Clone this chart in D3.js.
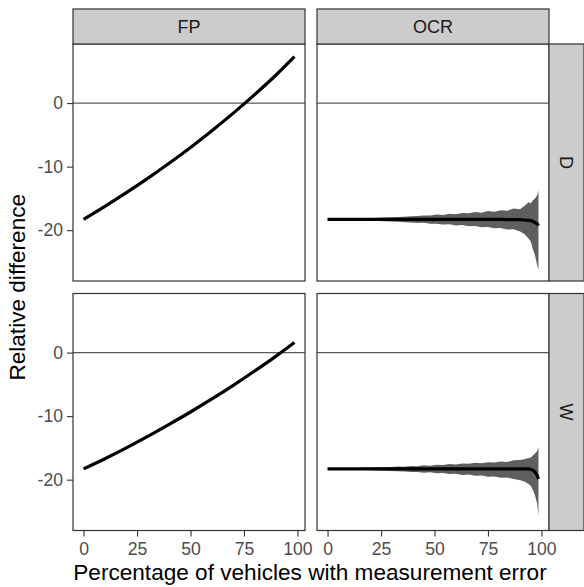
<!DOCTYPE html>
<html>
<head>
<meta charset="utf-8">
<script src="https://cdn.jsdelivr.net/npm/d3@7"></script>
<style>
  body { margin: 0; background: #fff; }
  text { font-family: "Liberation Sans", Arial, sans-serif; }
</style>
</head>
<body>
<div id="chart"></div>
<script>
const cols = ['FP', 'OCR'];
const rows = ['D', 'W'];
const yTicks = [0, -10, -20];
const xTicks = [0, 25, 50, 75, 100];

// FP: smooth curves
const fpX = [0, 10, 20, 30, 40, 50, 60, 70, 80, 90, 98.6];
const fpD = [-18.3, -16.25, -14.1, -11.85, -9.48, -6.98, -4.35, -1.58, 1.34, 4.42, 7.3];
const fpW = [-18.3, -16.7, -15.0, -13.2, -11.3, -9.35, -7.3, -5.15, -2.9, -0.55, 1.6];

// OCR: mean with ribbon
const ocrX = [0, 3, 6, 9, 12, 15, 18, 21, 24, 27, 30, 33, 36, 39, 42, 45, 48, 51, 54, 57, 60,
  63, 66, 69, 72, 75, 78, 81, 84, 87, 90, 92, 94, 95, 96, 97, 98, 98.6];
const ocrD = [-18.3, -18.3, -18.3, -18.3, -18.3, -18.3, -18.3, -18.3, -18.3, -18.3, -18.3,
  -18.3, -18.3, -18.3, -18.3, -18.3, -18.3, -18.3, -18.3, -18.3, -18.3, -18.3, -18.3, -18.3,
  -18.3, -18.3, -18.3, -18.3, -18.35, -18.35, -18.35, -18.4, -18.45, -18.5, -18.6, -18.8, -19.0, -19.3];
const ocrDHi = [-18.25, -18.25, -18.22, -18.2, -18.18, -18.15, -18.12, -18.08, -18.05, -18.0,
  -17.98, -17.92, -17.88, -17.8, -17.78, -17.68, -17.7, -17.55, -17.6, -17.42, -17.48, -17.3,
  -17.35, -17.15, -17.25, -17.0, -17.1, -16.85, -16.95, -16.6, -16.7, -16.2, -15.6, -15.8,
  -15.3, -15.0, -14.5, -13.7];
const ocrDLo = [-18.35, -18.36, -18.38, -18.4, -18.43, -18.45, -18.5, -18.52, -18.57, -18.6,
  -18.65, -18.68, -18.75, -18.78, -18.88, -18.85, -19.0, -18.98, -19.12, -19.08, -19.25, -19.2,
  -19.4, -19.35, -19.55, -19.5, -19.7, -19.65, -19.9, -19.85, -20.2, -20.6, -21.3, -21.8,
  -23.0, -24.0, -25.5, -26.3];
const ocrW = [-18.3, -18.3, -18.3, -18.3, -18.3, -18.3, -18.3, -18.3, -18.3, -18.3, -18.3,
  -18.3, -18.3, -18.3, -18.3, -18.3, -18.3, -18.3, -18.3, -18.3, -18.3, -18.3, -18.3, -18.3,
  -18.3, -18.3, -18.3, -18.3, -18.3, -18.3, -18.3, -18.3, -18.3, -18.4, -18.5, -18.8, -19.3, -19.9];
const ocrWHi = [-18.25, -18.25, -18.23, -18.2, -18.18, -18.15, -18.1, -18.1, -18.05, -18.0,
  -18.0, -17.92, -17.95, -17.85, -17.88, -17.75, -17.8, -17.65, -17.7, -17.55, -17.6, -17.45,
  -17.5, -17.35, -17.4, -17.25, -17.3, -17.15, -17.2, -16.95, -16.9, -16.8, -16.6, -16.5,
  -16.2, -15.9, -15.5, -14.9];
const ocrWLo = [-18.35, -18.36, -18.38, -18.4, -18.42, -18.45, -18.48, -18.5, -18.55, -18.6,
  -18.62, -18.68, -18.72, -18.8, -18.78, -18.9, -18.85, -19.0, -18.95, -19.12, -19.08, -19.25,
  -19.2, -19.4, -19.35, -19.55, -19.5, -19.7, -19.65, -19.9, -20.1, -20.3, -20.7, -21.0,
  -21.6, -22.5, -23.8, -25.7];

const series = {
  'FP-D': { x: fpX, y: fpD },
  'FP-W': { x: fpX, y: fpW },
  'OCR-D': { x: ocrX, y: ocrD, lo: ocrDLo, hi: ocrDHi },
  'OCR-W': { x: ocrX, y: ocrW, lo: ocrWLo, hi: ocrWHi },
};

const W = 584, H = 587;
const panelX = [73, 317], panelY = [44, 293.5];
const pw = 232, ph = 237;
const font = '"Liberation Sans", Arial, sans-serif';

const svg = d3.select('#chart').append('svg')
  .attr('width', W).attr('height', H);

const x = d3.scaleLinear().domain([-4.93, 103.53]).range([0, pw]);
const y = d3.scaleLinear().domain([-28.0, 9.3]).range([ph, 0]);

const line = d3.line().x(d => x(d[0])).y(d => y(d[1]));
const area = d3.area().x(d => x(d[0])).y0(d => y(d[1])).y1(d => y(d[2]));

rows.forEach((r, ri) => {
  cols.forEach((c, ci) => {
    const s = series[`${c}-${r}`];
    const g = svg.append('g').attr('transform', `translate(${panelX[ci]},${panelY[ri]})`);
    g.append('rect').attr('width', pw).attr('height', ph).attr('fill', '#fff');

    g.append('line').attr('x1', 0).attr('x2', pw)
      .attr('y1', y(0)).attr('y2', y(0))
      .attr('stroke', '#5a5a5a').attr('stroke-width', 1.1);

    if (s.lo) {
      g.append('path').datum(s.x.map((v, i) => [v, s.lo[i], s.hi[i]]))
        .attr('d', area).attr('fill', '#5f5f5f');
    }
    g.append('path').datum(s.x.map((v, i) => [v, s.y[i]]))
      .attr('d', line.curve(s.lo ? d3.curveLinear : d3.curveNatural))
      .attr('fill', 'none').attr('stroke', '#000').attr('stroke-width', 3.2);

    g.append('rect').attr('width', pw).attr('height', ph)
      .attr('fill', 'none').attr('stroke', '#333').attr('stroke-width', 1.2);

    if (ci === 0) {
      const ya = g.append('g').call(d3.axisLeft(y).tickValues(yTicks)
        .tickFormat(d => String(d)).tickSize(6).tickPadding(4));
      ya.select('.domain').remove();
      ya.selectAll('line').attr('stroke', '#333').attr('stroke-width', 1.1);
      ya.selectAll('text').attr('fill', '#4d4d4d').attr('font-size', '17.6px')
        .attr('font-family', font);
    }
    if (ri === rows.length - 1) {
      const xa = g.append('g').attr('transform', `translate(0,${ph})`)
        .call(d3.axisBottom(x).tickValues(xTicks).tickSize(6).tickPadding(6));
      xa.select('.domain').remove();
      xa.selectAll('line').attr('stroke', '#333').attr('stroke-width', 1.1);
      xa.selectAll('text').attr('fill', '#4d4d4d').attr('font-size', '17.6px')
        .attr('font-family', font);
    }
  });
});

// column strips
cols.forEach((c, ci) => {
  const g = svg.append('g').attr('transform', `translate(${panelX[ci]},9)`);
  g.append('rect').attr('width', pw).attr('height', 35)
    .attr('fill', '#cccccc').attr('stroke', '#333').attr('stroke-width', 1.2);
  g.append('text').attr('x', pw / 2).attr('y', 17.5).attr('dy', '0.35em')
    .attr('text-anchor', 'middle').attr('font-size', '18px').attr('fill', '#1a1a1a')
    .text(c);
});

// row strips
rows.forEach((r, ri) => {
  const g = svg.append('g').attr('transform', `translate(549,${panelY[ri]})`);
  g.append('rect').attr('width', 35).attr('height', ph)
    .attr('fill', '#cccccc').attr('stroke', '#333').attr('stroke-width', 1.2);
  g.append('text').attr('transform', `translate(17.5,${ph / 2}) rotate(90)`)
    .attr('dy', '0.35em').attr('text-anchor', 'middle')
    .attr('font-size', '18px').attr('fill', '#1a1a1a').text(r);
});

// axis titles
svg.append('text').attr('x', 310).attr('y', 580).attr('text-anchor', 'middle')
  .attr('font-size', '22.6px').attr('fill', '#000')
  .text('Percentage of vehicles with measurement error');
svg.append('text').attr('transform', `translate(25,${(panelY[0] + panelY[1] + ph) / 2}) rotate(-90)`)
  .attr('text-anchor', 'middle').attr('font-size', '22.6px').attr('fill', '#000')
  .text('Relative difference');
</script>
</body>
</html>
